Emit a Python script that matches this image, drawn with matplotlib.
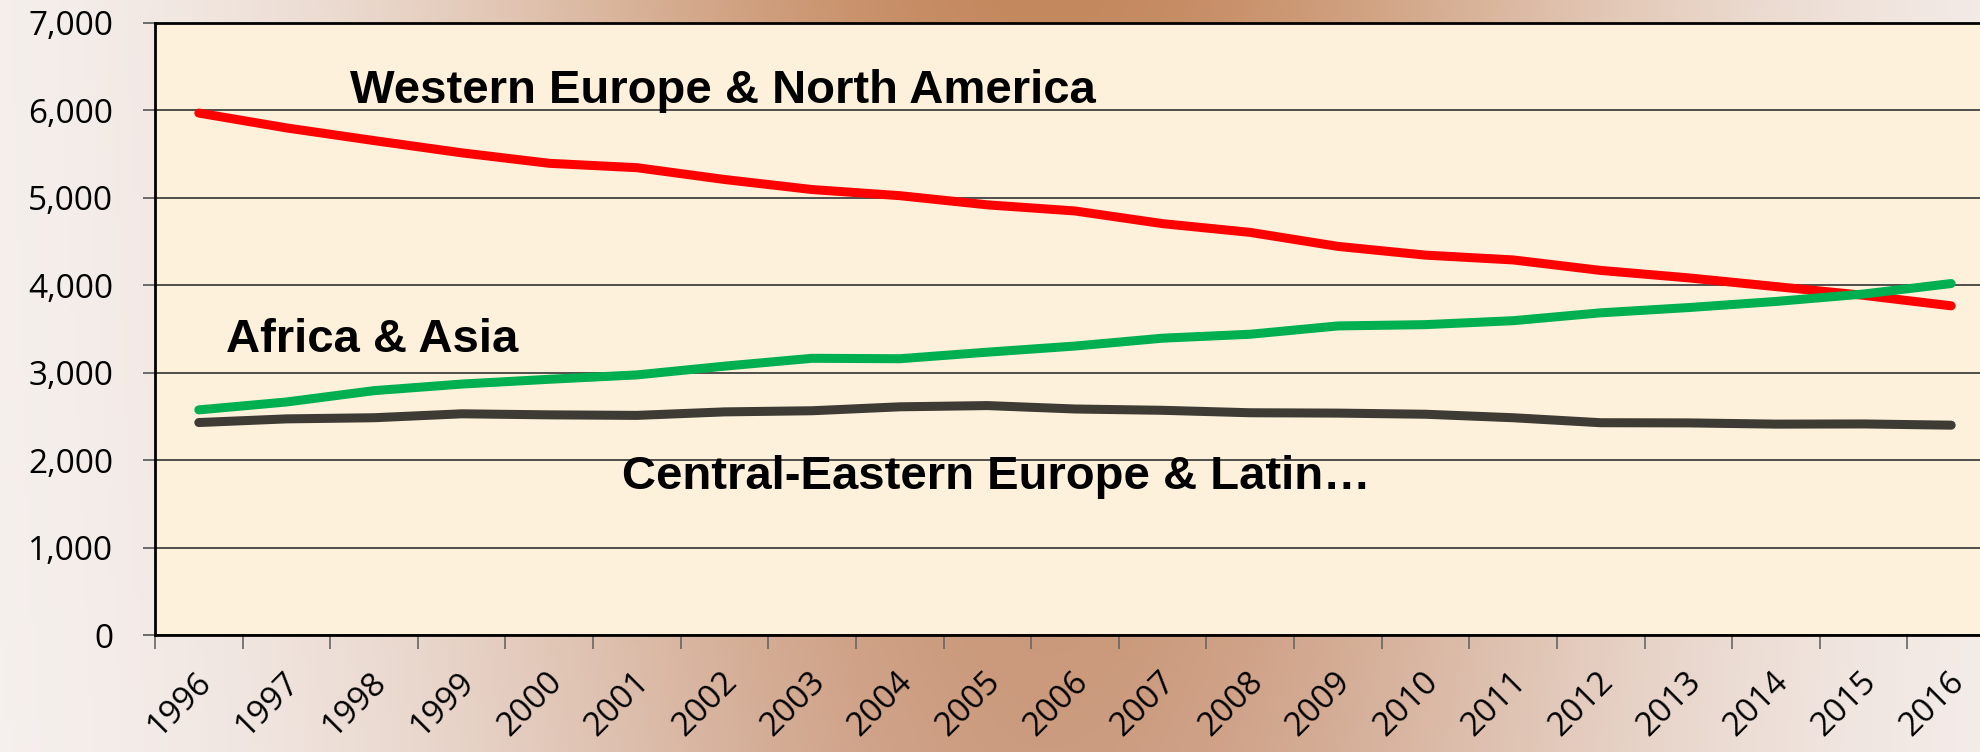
import numpy as np
import matplotlib
matplotlib.use("Agg")
from matplotlib import pyplot as plt
from matplotlib import transforms

years = list(range(1996, 2017))
western = [5970, 5800, 5655, 5515, 5395, 5345, 5210, 5095, 5025, 4920, 4850,
           4705, 4605, 4445, 4345, 4290, 4170, 4085, 3985, 3885, 3765]
africa_asia = [2575, 2665, 2795, 2870, 2925, 2975, 3075, 3165, 3160, 3235, 3305,
               3395, 3440, 3535, 3550, 3595, 3685, 3745, 3815, 3900, 4020]
central_latin = [2430, 2472, 2485, 2530, 2518, 2512, 2552, 2565, 2610, 2624, 2585,
                 2570, 2542, 2538, 2525, 2485, 2428, 2426, 2412, 2414, 2400]
series_labels = ["Western Europe & North America", "Africa & Asia",
                 "Central-Eastern Europe & Latin\u2026"]

W, H = 1980, 752
fig = plt.figure(figsize=(W / 100, H / 100), dpi=100)

# background gradient
bg = fig.add_axes([0, 0, 1, 1], zorder=-5)
u = np.linspace(0, 1, 400)[None, :]
t = np.linspace(0, 1, 200)[:, None]
w = np.exp(-((u - 0.53) / 0.30) ** 2)
light = np.array([0.97, 0.955, 0.95])
dark_top = np.array([0xC4, 0x88, 0x5E]) / 255
dark_bot = np.array([0xCC, 0x9C, 0x80]) / 255
dark = dark_top[None, None, :] * (1 - t[..., None]) + dark_bot[None, None, :] * t[..., None]
img = light[None, None, :] * (1 - w[..., None]) + dark * w[..., None]
bg.imshow(img, aspect="auto", extent=[0, 1, 0, 1], origin="upper")
bg.axis("off")

ax = fig.add_axes([155 / W, 1 - 635 / H, 1840 / W, 612 / H])
ax.set_facecolor("#FDF1DC")

x = np.arange(len(years))
ax.plot(x, western, color="#FF0000", lw=6.5, solid_capstyle="round", zorder=3)
ax.plot(x, africa_asia, color="#00B050", lw=6.5, solid_capstyle="round", zorder=3)
ax.plot(x, central_latin, color="#3D3B33", lw=6.5, solid_capstyle="round", zorder=3)

ax.set_xlim(-0.5, len(years) - 0.5)
ax.set_ylim(0, 7000)
ax.set_yticks(np.arange(0, 7001, 1000))
ax.set_yticklabels([f"{v:,}" for v in range(0, 7001, 1000)],
                   fontsize=24, family="Open Sans")
ax.grid(axis="y", color="#333333", lw=1.2)
ax.set_axisbelow(True)

for s in ["left", "bottom", "top"]:
    ax.spines[s].set_color("black")
    ax.spines[s].set_linewidth(2)
ax.spines["right"].set_visible(False)

ax.tick_params(axis="y", direction="out", length=9, width=1.2, color="#555555", pad=21)

# category boundaries as major ticks, year labels on minor ticks
ax.set_xticks(np.arange(-0.5, len(years), 1))
ax.set_xticklabels([])
ax.tick_params(axis="x", which="major", direction="out", length=10, width=1.2,
               color="#666666")
ax.set_xticks(x, minor=True)
ax.set_xticklabels([str(y) for y in years], minor=True, fontsize=24,
                   family="Open Sans", rotation=45, ha="right", va="center",
                   rotation_mode="anchor")
ax.tick_params(axis="x", which="minor", length=0, pad=30)
offset = transforms.ScaledTranslation(8 / 100, 0, fig.dpi_scale_trans)
for lab in ax.get_xticklabels(minor=True):
    lab.set_transform(lab.get_transform() + offset)

txt = dict(fontsize=34, fontweight="bold", family="Liberation Sans",
           color="black", va="baseline", ha="left", zorder=4)
ax.text(1.72, 6085, series_labels[0], **txt)
ax.text(0.31, 3235, series_labels[1], **txt)
ax.text(4.83, 1675, series_labels[2], **txt)

fig.savefig("out.png", dpi=100)
